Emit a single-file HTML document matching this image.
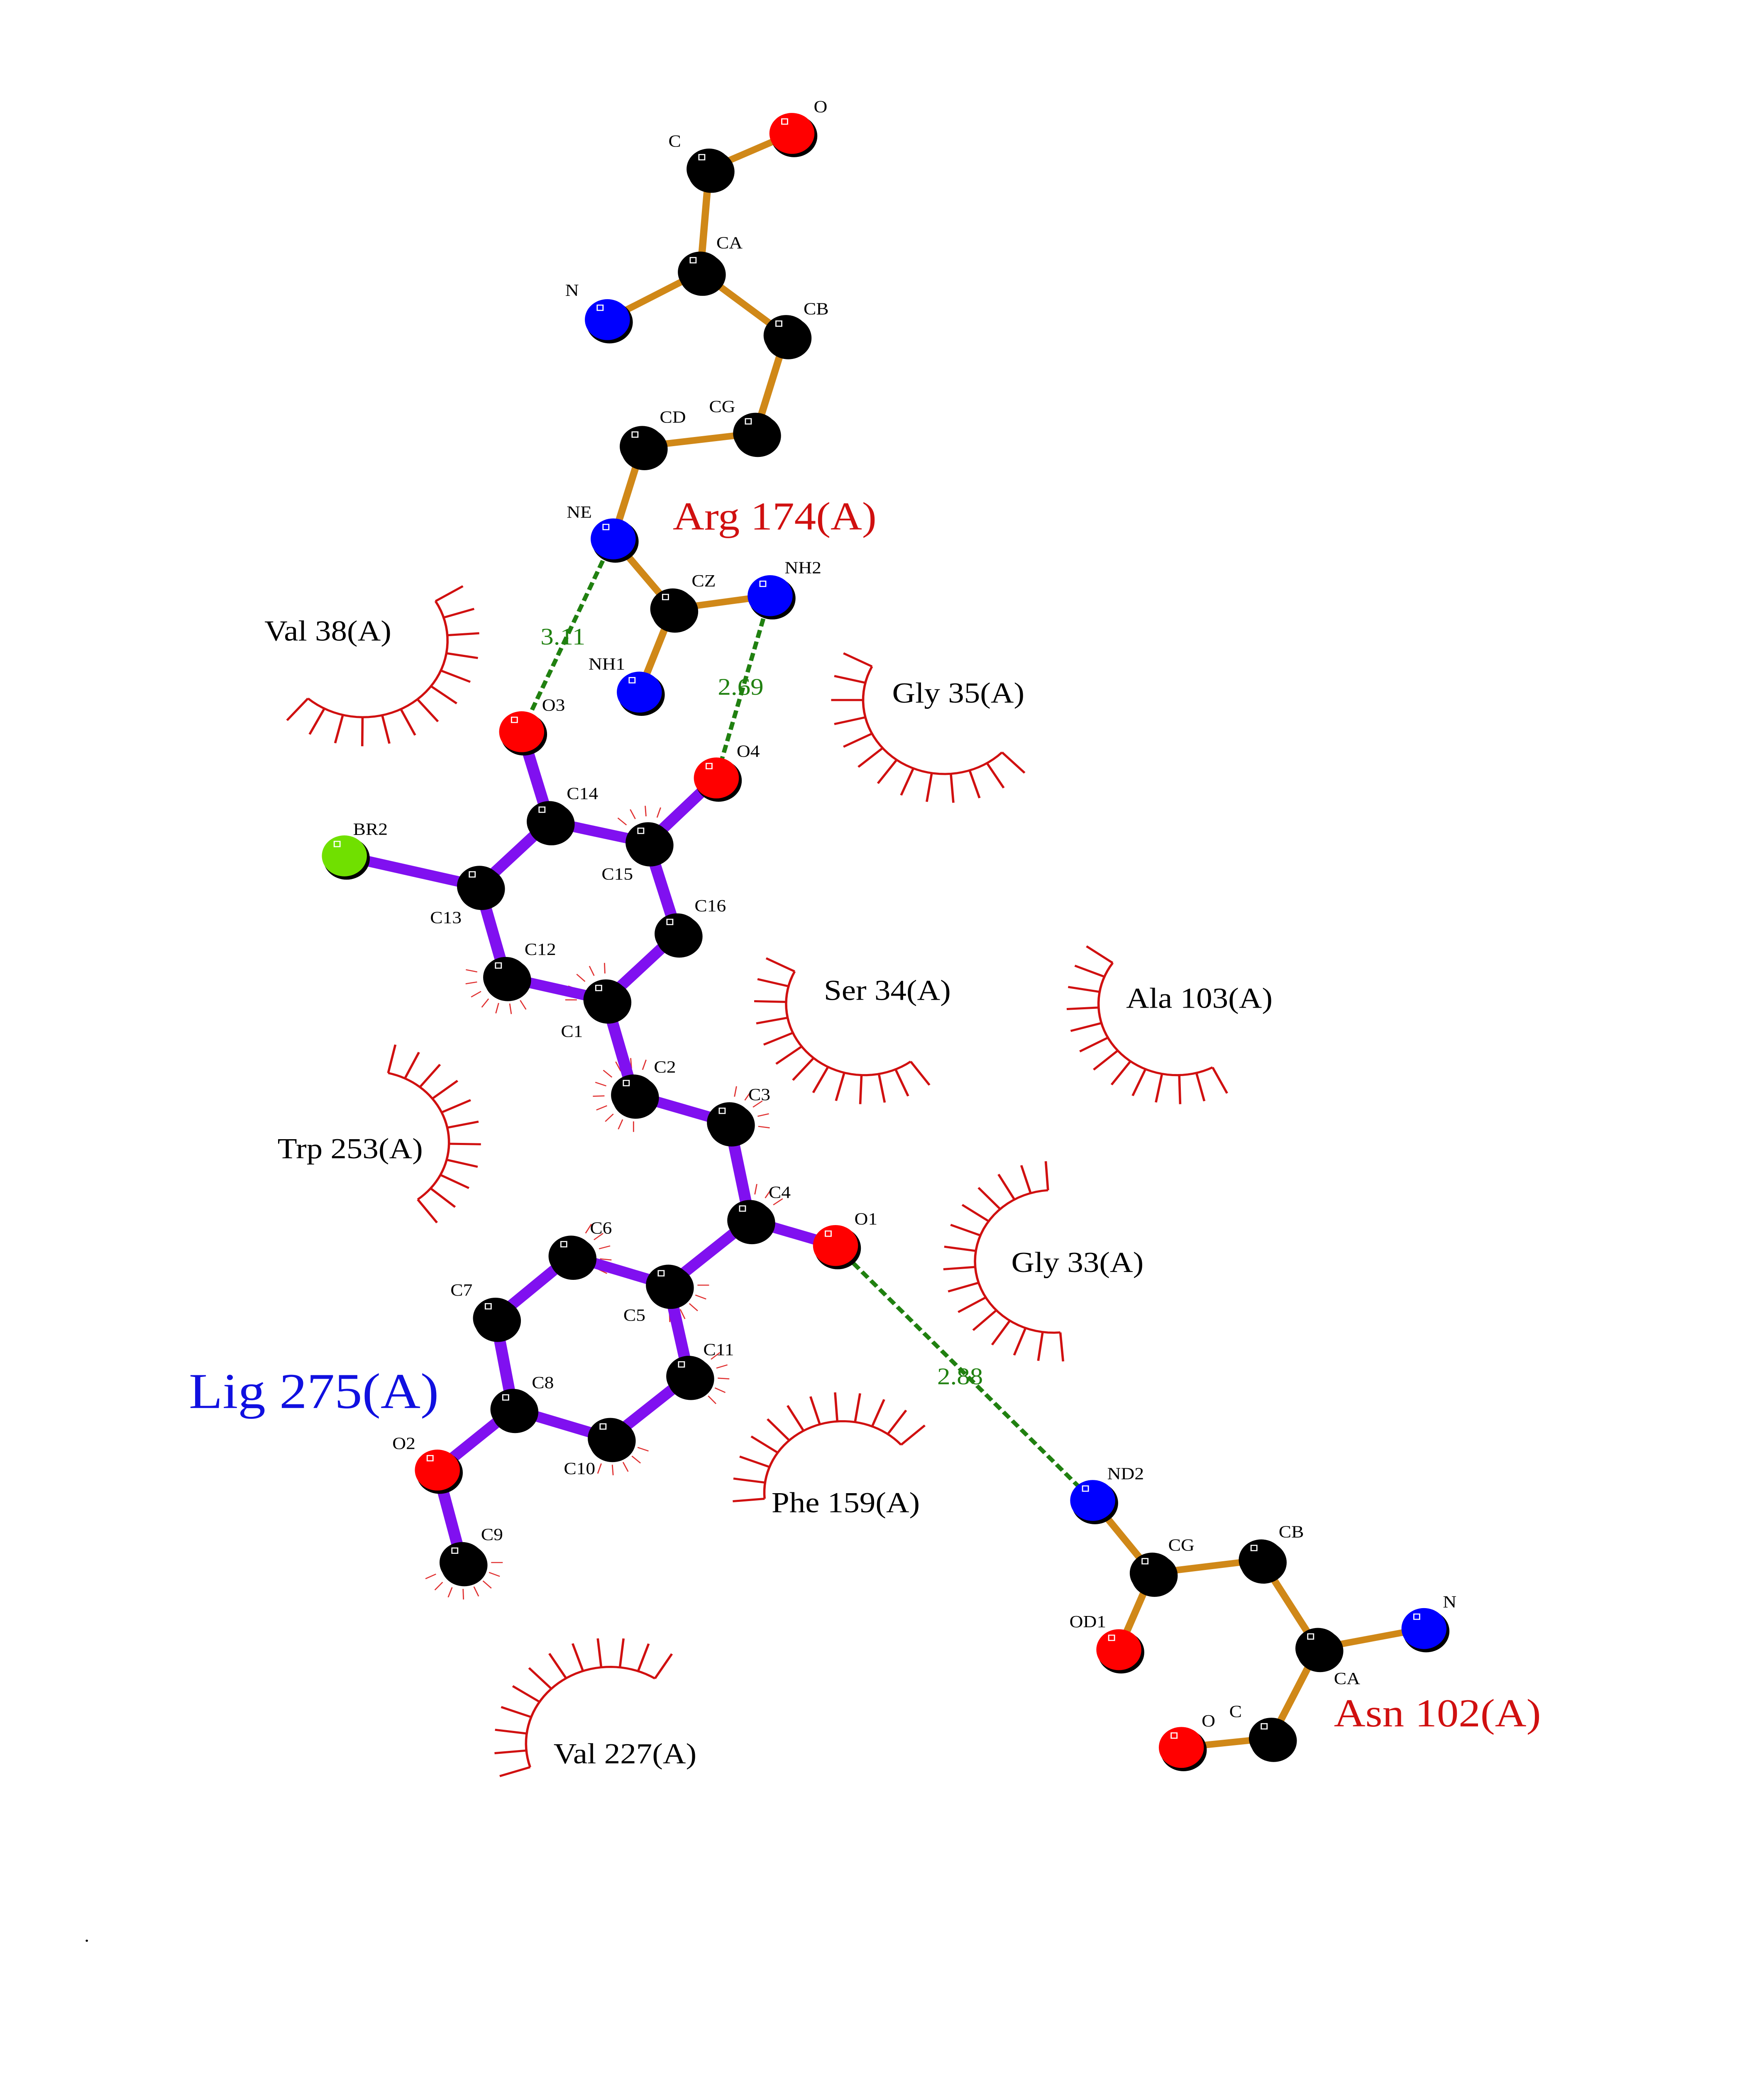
<!DOCTYPE html>
<html><head><meta charset="utf-8"><style>
html,body{margin:0;padding:0;background:#fff;width:100%;height:100%;overflow:hidden;}
svg{display:block;position:fixed;left:0;top:0;width:100vw;height:100vh;}
text{font-family:"Liberation Serif",serif;}
</style></head><body><svg id="s" viewBox="0 0 1214 1571" preserveAspectRatio="none" xmlns="http://www.w3.org/2000/svg">
<rect width="1214" height="1571" fill="#fff"/>
<g id="arcs" stroke="#d01010" stroke-width="1.6" fill="none"></g>
<g id="ticks" stroke="#e03030" stroke-width="0.8"></g>
<g id="hb" stroke="#208010" stroke-width="3" stroke-dasharray="6,3">
<line x1="422" y1="408" x2="359" y2="554"/>
<line x1="530" y1="451" x2="493" y2="589"/>
<line x1="575" y1="943" x2="752" y2="1136"/>
</g>
<g id="bonds" stroke-linecap="round"></g>
<g id="atoms"></g>
<g font-size="13" fill="#000">
<text x="460" y="111">C</text><text x="560" y="85">O</text><text x="493" y="188">CA</text><text x="389" y="224">N</text>
<text x="553" y="238">CB</text><text x="488" y="312">CG</text><text x="454" y="320">CD</text><text x="390" y="392">NE</text>
<text x="476" y="444">CZ</text><text x="540" y="434">NH2</text><text x="405" y="507">NH1</text>
<text x="373" y="538">O3</text><text x="390" y="605">C14</text><text x="414" y="666">C15</text><text x="507" y="573">O4</text>
<text x="243" y="632">BR2</text><text x="296" y="699">C13</text><text x="361" y="723">C12</text><text x="386" y="785">C1</text>
<text x="478" y="690">C16</text><text x="450" y="812">C2</text><text x="515" y="833">C3</text><text x="529" y="907">C4</text>
<text x="588" y="927">O1</text><text x="429" y="1000">C5</text><text x="406" y="934">C6</text><text x="310" y="981">C7</text>
<text x="366" y="1051">C8</text><text x="388" y="1116">C10</text><text x="484" y="1026">C11</text><text x="270" y="1097">O2</text>
<text x="331" y="1166">C9</text>
<text x="762" y="1120">ND2</text><text x="804" y="1174">CG</text><text x="880" y="1164">CB</text><text x="736" y="1232">OD1</text>
<text x="918" y="1275">CA</text><text x="993" y="1217">N</text><text x="846" y="1300">C</text><text x="827" y="1307">O</text>
</g>
<g font-size="18" fill="#208010">
<text x="372" y="488">3.11</text><text x="494" y="526">2.69</text><text x="645" y="1048">2.88</text>
</g>
<g font-size="22" fill="#000">
<text x="182" y="485">Val 38(A)</text><text x="614" y="532">Gly 35(A)</text><text x="567" y="757">Ser 34(A)</text>
<text x="775" y="763">Ala 103(A)</text><text x="191" y="877">Trp 253(A)</text><text x="696" y="963">Gly 33(A)</text>
<text x="531" y="1145">Phe 159(A)</text><text x="381" y="1335">Val 227(A)</text>
</g>
<text x="463" y="401" font-size="30" fill="#d01010">Arg 174(A)</text>
<text x="918" y="1307" font-size="30" fill="#d01010">Asn 102(A)</text>
<text x="130" y="1066" font-size="38" fill="#1010e0">Lig 275(A)</text>
<text x="58" y="1470" font-size="14" fill="#000">.</text>
</svg><script>
var NS="http://www.w3.org/2000/svg";
function el(p,t,a){var e=document.createElementNS(NS,t);for(var k in a)e.setAttribute(k,a[k]);document.getElementById(p).appendChild(e);return e;}
var A={
aC:[488,128,'k'],aO:[545,101,'r'],aCA:[482,206,'k'],aN:[418,242,'b'],aCB:[541,254,'k'],aCG:[520,328,'k'],aCD:[442,338,'k'],aNE:[422,408,'b'],aCZ:[463,461,'k'],aNH2:[530,451,'b'],aNH1:[440,524,'b'],
O3:[359,554,'r'],C14:[378,622,'k'],C15:[446,638,'k'],O4:[493,589,'r'],BR2:[237,648,'g'],C13:[330,671,'k'],C12:[348,740,'k'],C1:[417,757,'k'],C16:[466,707,'k'],C2:[436,829,'k'],C3:[502,850,'k'],C4:[516,924,'k'],O1:[575,943,'r'],C5:[460,973,'k'],C6:[393,951,'k'],C7:[341,998,'k'],C8:[353,1067,'k'],C10:[420,1089,'k'],C11:[474,1042,'k'],O2:[301,1113,'r'],C9:[318,1183,'k'],
nND2:[752,1136,'b'],nCG:[793,1191,'k'],nCB:[868,1181,'k'],nOD1:[770,1249,'r'],nCA:[907,1248,'k'],nN:[980,1233,'b'],nC:[875,1316,'k'],nO:[813,1323,'r']};
var orange=[['aC','aO'],['aC','aCA'],['aCA','aN'],['aCA','aCB'],['aCB','aCG'],['aCG','aCD'],['aCD','aNE'],['aNE','aCZ'],['aCZ','aNH2'],['aCZ','aNH1'],
['nND2','nCG'],['nCG','nCB'],['nCG','nOD1'],['nCB','nCA'],['nCA','nN'],['nCA','nC'],['nC','nO']];
var purple=[['O3','C14'],['C14','C15'],['C15','O4'],['C14','C13'],['C13','BR2'],['C13','C12'],['C12','C1'],['C1','C16'],['C16','C15'],['C1','C2'],['C2','C3'],['C3','C4'],['C4','O1'],['C4','C5'],['C5','C6'],['C6','C7'],['C7','C8'],['C8','C10'],['C10','C11'],['C11','C5'],['C8','O2'],['O2','C9']];
orange.forEach(function(b){var p=A[b[0]],q=A[b[1]];el('bonds','line',{x1:p[0],y1:p[1],x2:q[0],y2:q[1],stroke:'#d08818','stroke-width':5});});
purple.forEach(function(b){var p=A[b[0]],q=A[b[1]];el('bonds','line',{x1:p[0],y1:p[1],x2:q[0],y2:q[1],stroke:'#8010f0','stroke-width':8});});
var col={k:'#000',r:'#ff0000',b:'#0000ff',g:'#70e000'};
for(var k in A){var a=A[k];el('atoms','circle',{cx:a[0]+1.5,cy:a[1]+2,r:16,fill:'#000'});el('atoms','circle',{cx:a[0],cy:a[1],r:15.5,fill:col[a[2]]});el('atoms','rect',{x:a[0]-7,y:a[1]-11,width:4,height:4,fill:'none',stroke:'#fff','stroke-width':0.8});}
function arc(cx,cy,r,a0,a1){var n=Math.round((a1-a0)/13);var d='';for(var i=0;i<=40;i++){var t=(a0+(a1-a0)*i/40)*Math.PI/180;d+=(i?'L':'M')+(cx+r*Math.cos(t))+' '+(cy+r*Math.sin(t));}
el('arcs','path',{d:d});for(var j=0;j<=n;j++){var t=(a0+(a1-a0)*j/n)*Math.PI/180;el('arcs','line',{x1:cx+r*Math.cos(t),y1:cy+r*Math.sin(t),x2:cx+(r+22)*Math.cos(t),y2:cy+(r+22)*Math.sin(t)});}}
arc(250,485,58,-31,131);arc(650,530,56,45,207);arc(595,760,54,54,207);arc(810,760,54,63,215);
arc(255,865,54,-77,53);arc(725,955,54,85,266);arc(580,1130,54,175,318);arc(420,1320,58,162,302);
function tk(k,a0,a1){var a=A[k];for(var t=a0;t<=a1;t+=22){var r=t*Math.PI/180;el('ticks','line',{x1:a[0]+20*Math.cos(r),y1:a[1]+20*Math.sin(r),x2:a[0]+28*Math.cos(r),y2:a[1]+28*Math.sin(r)});}}
tk('C2',90,300);tk('C12',60,200);tk('C15',200,300);tk('C1',180,280);tk('C3',-80,20);tk('C6',-60,30);tk('C11',-40,60);tk('C10',20,120);tk('C9',0,160);tk('C4',-80,-20);tk('C5',0,90);
</script></body></html>
